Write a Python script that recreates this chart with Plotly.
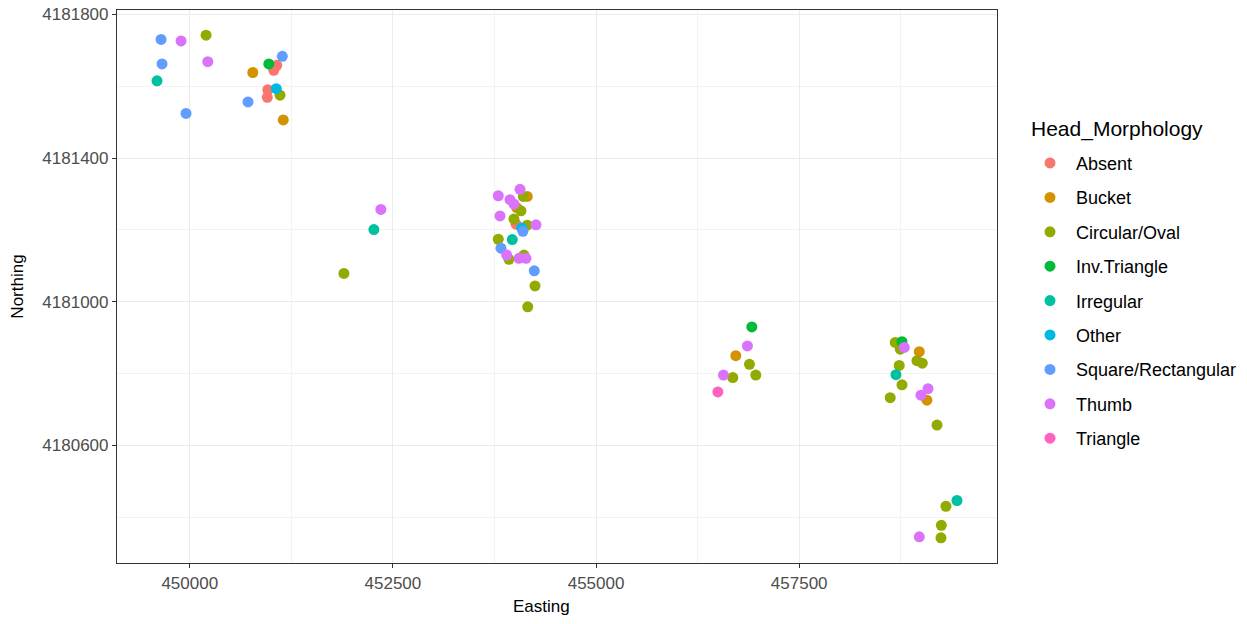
import plotly.graph_objects as go

categories = ["Absent", "Bucket", "Circular/Oval", "Inv.Triangle", "Irregular",
              "Other", "Square/Rectangular", "Thumb", "Triangle"]
colors = ["#F8766D", "#D39200", "#93AA00", "#00BA38", "#00C19F",
          "#00B9E3", "#619CFF", "#DB72FB", "#FF61C3"]

easting = [
    449647, 449893, 450201, 449659, 450222, 449597, 449954, 450776, 450973, 451071,
    451034, 451139, 450961, 450954, 451065, 451111, 450717, 451151,
    451897, 452266, 452352,
    453797, 454064, 453941, 454154, 454105, 453990, 454023, 454076, 453818, 453990,
    454015, 454154, 454261, 454100, 454085, 453797, 453969, 453830, 453900, 453928,
    454052, 454113, 454138, 454240, 454249, 454159,
    456917, 456863, 456720, 456888, 456966, 456568, 456683, 456499,
    458682, 458765, 458744, 458793, 458978, 458949, 459015, 458731, 458691, 458765,
    458620, 459085, 458998, 459072, 459196, 459442, 459306, 459249, 458978, 459245,
]
northing = [
    4181730, 4181726, 4181742, 4181662, 4181668, 4181615, 4181524, 4181638, 4181662, 4181658,
    4181644, 4181683, 4181590, 4181569, 4181593, 4181575, 4181556, 4181506,
    4181079, 4181201, 4181257,
    4181295, 4181313, 4181284, 4181293, 4181293, 4181272, 4181262, 4181253, 4181239, 4181230,
    4181216, 4181213, 4181214, 4181196, 4181205, 4181174, 4181173, 4181149, 4181130, 4181118,
    4181121, 4181130, 4181121, 4181086, 4181044, 4180986,
    4180930, 4180877, 4180850, 4180826, 4180796, 4180796, 4180789, 4180749,
    4180887, 4180889, 4180868, 4180873, 4180861, 4180836, 4180829, 4180823, 4180797, 4180769,
    4180733, 4180758, 4180740, 4180726, 4180657, 4180447, 4180431, 4180378, 4180346, 4180343,
]
morphology = [
    "Square/Rectangular", "Thumb", "Circular/Oval", "Square/Rectangular", "Thumb", "Irregular",
    "Square/Rectangular", "Bucket", "Inv.Triangle", "Absent",
    "Absent", "Square/Rectangular", "Absent", "Absent", "Other", "Circular/Oval",
    "Square/Rectangular", "Bucket",
    "Circular/Oval", "Irregular", "Thumb",
    "Thumb", "Thumb", "Thumb", "Bucket", "Circular/Oval", "Thumb", "Bucket", "Circular/Oval",
    "Thumb", "Circular/Oval",
    "Absent", "Circular/Oval", "Thumb", "Square/Rectangular", "Other", "Circular/Oval",
    "Irregular", "Square/Rectangular", "Thumb", "Circular/Oval",
    "Thumb", "Circular/Oval", "Thumb", "Square/Rectangular", "Circular/Oval", "Circular/Oval",
    "Inv.Triangle", "Thumb", "Bucket", "Circular/Oval", "Circular/Oval", "Thumb",
    "Circular/Oval", "Triangle",
    "Circular/Oval", "Inv.Triangle", "Circular/Oval", "Thumb", "Bucket", "Circular/Oval",
    "Circular/Oval", "Circular/Oval", "Irregular", "Circular/Oval",
    "Circular/Oval", "Thumb", "Thumb", "Bucket", "Circular/Oval", "Irregular",
    "Circular/Oval", "Circular/Oval", "Thumb", "Circular/Oval",
]

x_ticks = [450000, 452500, 455000, 457500]
y_ticks = [4180600, 4181000, 4181400, 4181800]

FONT = "Liberation Sans, Arial, sans-serif"

fig = go.Figure()
for cat, col in zip(categories, colors):
    xs = [e for e, m in zip(easting, morphology) if m == cat]
    ys = [n for n, m in zip(northing, morphology) if m == cat]
    fig.add_trace(go.Scatter(
        x=xs, y=ys, mode="markers", name=cat, legendgroup=cat,
        marker=dict(color=col, size=11, line=dict(width=0)),
    ))

def expand(vals, frac=0.05):
    lo, hi = min(vals), max(vals)
    pad = (hi - lo) * frac
    return [lo - pad, hi + pad]

axis_common = dict(
    showline=True, linecolor="#333333", linewidth=1.2, mirror=True,
    ticks="outside", ticklen=4, tickcolor="#333333", tickwidth=1.1,
    showgrid=True, gridcolor="#EBEBEB", gridwidth=1.1, zeroline=False,
    tickfont=dict(family=FONT, size=17, color="#4D4D4D"),
)

fig.update_xaxes(
    range=expand(easting), tickmode="array", tickvals=x_ticks,
    ticktext=[str(v) for v in x_ticks],
    minor=dict(showgrid=True, gridcolor="#F3F3F3", gridwidth=0.6, dtick=1250, tick0=448750),
    **axis_common,
)
fig.update_yaxes(
    range=expand(northing), tickmode="array", tickvals=y_ticks,
    ticktext=[str(v) for v in y_ticks],
    minor=dict(showgrid=True, gridcolor="#F3F3F3", gridwidth=0.6, dtick=200, tick0=4180400),
    title=dict(text="Northing", font=dict(family=FONT, size=17, color="#000000"),
               standoff=14),
    **axis_common,
)

fig.add_annotation(
    text="Easting", xref="paper", yref="paper",
    x=(541 - 117) / 880, y=-(607 - 563) / 558, xanchor="center", yanchor="middle",
    showarrow=False, font=dict(family=FONT, size=17, color="#000000"),
)
fig.add_annotation(
    text="Head_Morphology", xref="paper", yref="paper",
    x=(1029 - 117) / 880, y=1 - (125 - 5) / 558, xanchor="left", yanchor="middle",
    showarrow=False, font=dict(family=FONT, size=21, color="#000000"),
)

fig.update_layout(
    width=1247, height=624,
    margin=dict(l=117, r=250, t=5, b=61),
    paper_bgcolor="white", plot_bgcolor="white",
    legend=dict(
        font=dict(family=FONT, size=18, color="#000000"),
        x=(1024 - 117) / 880, xanchor="left", y=1 - (141 - 5) / 558, yanchor="top",
        tracegroupgap=8, itemwidth=42,
        bgcolor="rgba(0,0,0,0)",
    ),
)

fig.write_html("out.html")
